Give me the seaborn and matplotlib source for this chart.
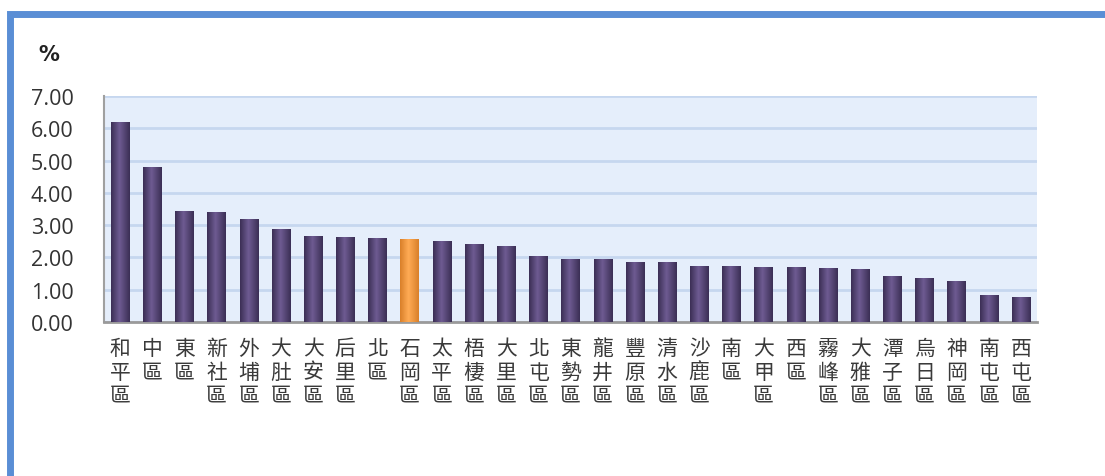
"""Bar chart of district percentages (Taichung), recreated with seaborn."""
import matplotlib
matplotlib.use('Agg')
import matplotlib.pyplot as plt
import numpy as np
import pandas as pd
import seaborn as sns
from matplotlib.colors import LinearSegmentedColormap
from matplotlib.patches import Rectangle

districts = [
    '和平區', '中區', '東區', '新社區', '外埔區', '大肚區', '大安區', '后里區',
    '北區', '石岡區', '太平區', '梧棲區', '大里區', '北屯區', '東勢區', '龍井區',
    '豐原區', '清水區', '沙鹿區', '南區', '大甲區', '西區', '霧峰區', '大雅區',
    '潭子區', '烏日區', '神岡區', '南屯區', '西屯區',
]
values = [
    6.19, 4.81, 3.44, 3.41, 3.20, 2.88, 2.66, 2.63,
    2.60, 2.56, 2.50, 2.42, 2.34, 2.03, 1.95, 1.94,
    1.87, 1.86, 1.75, 1.74, 1.71, 1.70, 1.68, 1.63,
    1.41, 1.35, 1.28, 0.84, 0.76,
]
highlight = '石岡區'
y_ticks = [0, 1, 2, 3, 4, 5, 6, 7]

_PURPLE = ('#3b2f55', '#6e5b92', '#3b2f55')
_ORANGE = ('#d9802a', '#ffab55', '#d9802a')

sns.set_theme(style='white')
plt.rcParams['font.family'] = ['Noto Sans CJK TC', 'DejaVu Sans']

df = pd.DataFrame({'district': districts, 'value': values})
palette = {d: (_ORANGE[1] if d == highlight else _PURPLE[1]) for d in districts}

fig = plt.figure(figsize=(11.05, 4.77), dpi=100)
ax = fig.add_axes([104 / 1105, 1 - 323 / 477, 933 / 1105, 226 / 477])

sns.barplot(
    data=df, x='district', y='value', hue='district', palette=palette,
    order=districts, legend=False, width=0.57, ax=ax, zorder=3,
    edgecolor='none',
)

# horizontal cylinder-ish shading on each bar
for patch, name in zip(ax.patches, districts):
    stops = _ORANGE if name == highlight else _PURPLE
    cmap = LinearSegmentedColormap.from_list('g', [(0, stops[0]), (0.45, stops[1]), (1, stops[2])])
    x0, w, h = patch.get_x(), patch.get_width(), patch.get_height()
    img = ax.imshow(np.linspace(0, 1, 64)[None, :], extent=[x0, x0 + w, 0, h],
                    aspect='auto', cmap=cmap, zorder=4, origin='lower')
    img.set_clip_path(patch)

ax.set_xlim(-0.5, len(districts) - 0.5)
ax.set_ylim(0, 7)
ax.set_facecolor('#e5eefb')
ax.set_yticks(y_ticks)
ax.set_yticklabels([f'{t:.2f}' for t in y_ticks], fontsize=15.5, color='#333333',
                   family=['Open Sans', 'DejaVu Sans'])
ax.yaxis.grid(True, color='#c6d7ef', linewidth=2, zorder=1)
ax.set_axisbelow(True)
ax.tick_params(axis='y', length=0, pad=22)
ax.tick_params(axis='x', length=0, pad=11)
ax.set_xticks(range(len(districts)))
ax.set_xticklabels(['\n'.join(d) for d in districts], fontsize=15, color='#3a3a3a',
                   linespacing=1.08, va='top', fontweight='light')
ax.set_xlabel('')
ax.set_ylabel('')

for side in ('top', 'right'):
    ax.spines[side].set_visible(False)
ax.spines['left'].set_color('#a0a0a0')
ax.spines['left'].set_linewidth(1.5)
ax.spines['bottom'].set_color('#9a9a9a')
ax.spines['bottom'].set_linewidth(2)

fig.text(49 / 1105, 1 - 55 / 477, '%', fontsize=15, fontweight='bold',
         ha='center', va='center', color='#222222', family=['DejaVu Sans'])

# blue frame running along the top and left edges
fig.patches.append(Rectangle((9.5 / 1105, -0.1), 1.2, 1 - 14.5 / 477 + 0.1,
                             transform=fig.transFigure, fill=False,
                             edgecolor='#5a8ed5', linewidth=5, zorder=0))

fig.savefig('out.png', dpi=100)
